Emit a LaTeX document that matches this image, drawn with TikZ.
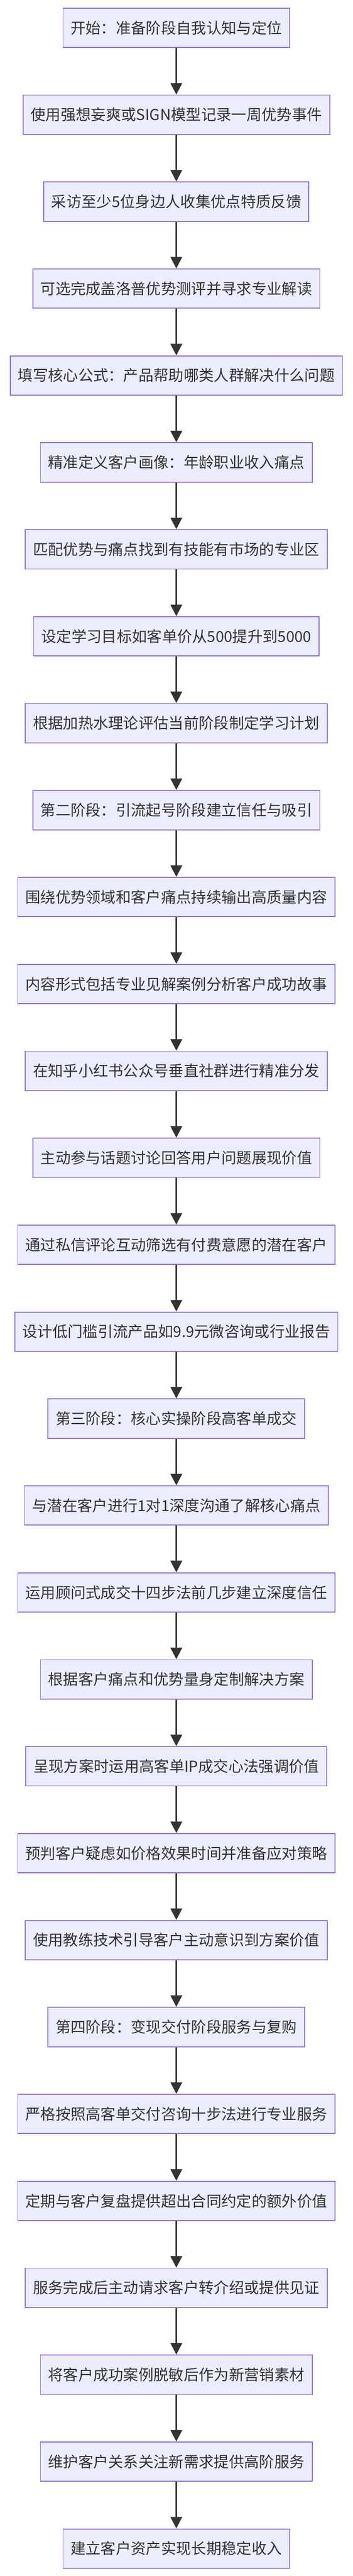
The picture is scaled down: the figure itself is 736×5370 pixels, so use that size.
\documentclass[tikz,border=0pt]{standalone}
\usepackage{fontspec}
\setmainfont{Noto Sans CJK SC}
\usetikzlibrary{arrows.meta}
\definecolor{boxfill}{HTML}{ECECFF}
\definecolor{boxline}{HTML}{9370DB}
\definecolor{ink}{HTML}{333333}
\begin{document}
\begin{tikzpicture}[x=1pt,y=1pt,
  stepbox/.style={draw=boxline,fill=boxfill,line width=2pt,inner xsep=16pt,inner ysep=0pt,
    minimum height=82pt,text=ink,font=\fontsize{31.5}{34}\selectfont,anchor=center},
  flow/.style={draw=ink,line width=3.5pt,-{Triangle[length=24pt,width=24pt]}}]
\useasboundingbox (0,0) rectangle (736,-5370);
\fill[white] (0,0) rectangle (736,-5370);
\foreach \t [count=\i] in {开始：准备阶段自我认知与定位,
使用强想妄爽或SIGN模型记录一周优势事件,
采访至少5位身边人收集优点特质反馈,
可选完成盖洛普优势测评并寻求专业解读,
填写核心公式：产品帮助哪类人群解决什么问题,
精准定义客户画像：年龄职业收入痛点,
匹配优势与痛点找到有技能有市场的专业区,
设定学习目标如客单价从500提升到5000,
根据加热水理论评估当前阶段制定学习计划,
第二阶段：引流起号阶段建立信任与吸引,
围绕优势领域和客户痛点持续输出高质量内容,
内容形式包括专业见解案例分析客户成功故事,
在知乎小红书公众号垂直社群进行精准分发,
主动参与话题讨论回答用户问题展现价值,
通过私信评论互动筛选有付费意愿的潜在客户,
设计低门槛引流产品如9.9元微咨询或行业报告,
第三阶段：核心实操阶段高客单成交,
与潜在客户进行1对1深度沟通了解核心痛点,
运用顾问式成交十四步法前几步建立深度信任,
根据客户痛点和优势量身定制解决方案,
呈现方案时运用高客单IP成交心法强调价值,
预判客户疑虑如价格效果时间并准备应对策略,
使用教练技术引导客户主动意识到方案价值,
第四阶段：变现交付阶段服务与复购,
严格按照高客单交付咨询十步法进行专业服务,
定期与客户复盘提供超出合同约定的额外价值,
服务完成后主动请求客户转介绍或提供见证,
将客户成功案例脱敏后作为新营销素材,
维护客户关系关注新需求提供高阶服务,
建立客户资产实现长期稳定收入}
  {\node[stepbox] (n\i) at (368,{-58-(\i-1)*181.2}) {\t};}
\foreach \i [evaluate=\i as \j using int(\i+1)] in {1,...,29}
  {\draw[flow] (n\i.south) -- (n\j.north);}
\end{tikzpicture}
\end{document}
